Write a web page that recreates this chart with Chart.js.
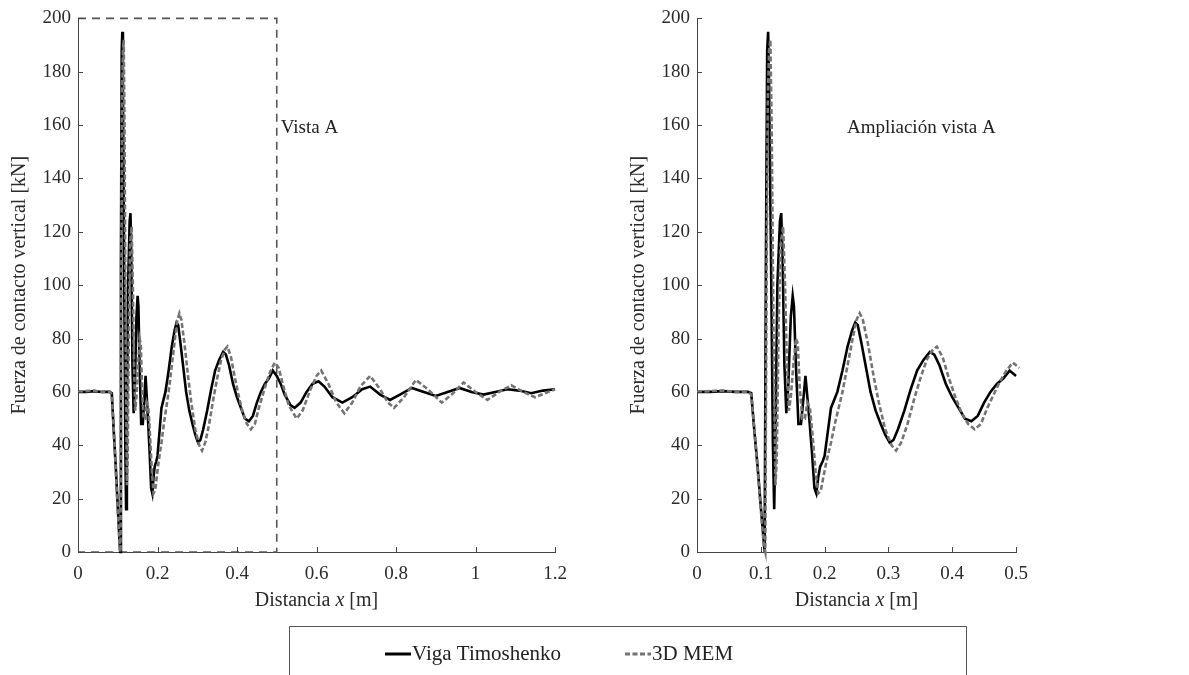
<!DOCTYPE html>
<html>
<head>
<meta charset="utf-8">
<script src="https://cdn.jsdelivr.net/npm/chart.js@4.4.1/dist/chart.umd.min.js"></script>
<style>
  html, body { margin: 0; padding: 0; background: #fff; }
  body { width: 1189px; height: 675px; position: relative; overflow: hidden; }
  canvas { position: absolute; top: 0; }
</style>
</head>
<body>
<canvas id="left" width="610" height="625" style="left:0px"></canvas>
<canvas id="right" width="579" height="625" style="left:610px"></canvas>
<canvas id="legend" width="679" height="49" style="left:289px; top:626px"></canvas>
<script>
// ---- data ----
const xTimo = [0, 0.02, 0.04, 0.06, 0.08, 0.085, 0.09, 0.095, 0.1, 0.106, 0.108, 0.110, 0.1115, 0.113, 0.116, 0.119, 0.121, 0.123, 0.126, 0.130, 0.132, 0.134, 0.137, 0.140, 0.143, 0.147, 0.150, 0.152, 0.155, 0.159, 0.163, 0.167, 0.170, 0.173, 0.176, 0.180, 0.184, 0.187, 0.190, 0.193, 0.197, 0.200, 0.205, 0.210, 0.215, 0.220, 0.228, 0.236, 0.243, 0.248, 0.252, 0.258, 0.265, 0.272, 0.280, 0.288, 0.295, 0.302, 0.308, 0.315, 0.325, 0.335, 0.345, 0.355, 0.365, 0.372, 0.380, 0.390, 0.400, 0.410, 0.420, 0.430, 0.440, 0.450, 0.460, 0.470, 0.480, 0.490, 0.500, 0.510, 0.520, 0.535, 0.545, 0.560, 0.575, 0.590, 0.605, 0.620, 0.640, 0.665, 0.690, 0.715, 0.735, 0.760, 0.785, 0.810, 0.840, 0.870, 0.900, 0.930, 0.960, 0.990, 1.020, 1.050, 1.080, 1.110, 1.140, 1.170, 1.200];
const fTimo = [60, 60, 60.3, 60, 60, 59.5, 45, 32, 17, 0, 108, 188, 195, 175, 110, 40, 16, 45, 100, 124, 127, 112, 70, 52, 62, 88, 96, 92, 70, 48, 48, 58, 66, 58, 50, 38, 24, 22, 28, 32, 34, 36, 45, 54, 57, 60, 68, 77, 83, 86, 85, 78, 69, 60, 53, 48, 44, 41, 42, 46, 53, 61, 68, 72, 75, 74, 70, 63, 58, 54, 50, 49, 51, 56, 60, 63, 65, 68, 66, 63, 59, 55, 54, 56, 60, 63, 64, 62, 58, 56, 58, 61, 62, 59, 57, 59, 61.5, 60, 58.5, 60, 61.5, 60, 59, 60, 61, 60.5, 59.5, 60.5, 61];
const xMem = [0, 0.02, 0.04, 0.06, 0.08, 0.085, 0.09, 0.095, 0.1, 0.105, 0.107, 0.109, 0.111, 0.113, 0.115, 0.117, 0.120, 0.123, 0.125, 0.128, 0.131, 0.135, 0.138, 0.141, 0.144, 0.147, 0.151, 0.155, 0.158, 0.161, 0.165, 0.169, 0.173, 0.177, 0.181, 0.186, 0.190, 0.194, 0.198, 0.203, 0.210, 0.216, 0.222, 0.228, 0.236, 0.244, 0.250, 0.255, 0.260, 0.268, 0.276, 0.285, 0.295, 0.305, 0.312, 0.320, 0.330, 0.340, 0.350, 0.360, 0.370, 0.376, 0.385, 0.395, 0.405, 0.415, 0.425, 0.435, 0.445, 0.455, 0.465, 0.475, 0.485, 0.495, 0.505, 0.515, 0.530, 0.550, 0.565, 0.585, 0.600, 0.612, 0.630, 0.650, 0.670, 0.690, 0.710, 0.735, 0.760, 0.780, 0.795, 0.820, 0.850, 0.880, 0.915, 0.940, 0.970, 1.000, 1.030, 1.060, 1.090, 1.120, 1.150, 1.175, 1.200];
const fMem = [60, 60.3, 60.5, 60, 60, 59, 46, 31, 16, 2, 0, 100, 170, 188, 192, 160, 80, 25, 35, 85, 115, 122, 100, 70, 53, 58, 70, 80, 78, 62, 50, 50, 56, 54, 44, 30, 22, 23, 28, 34, 41, 48, 54, 60, 70, 80, 87, 89.5, 87, 78, 67, 56, 46, 40, 38, 41, 48, 57, 65, 72, 76, 77, 73, 65, 58, 52, 48, 46, 48, 54, 59, 64, 68, 71, 69, 63, 55, 50, 53, 61, 66, 68, 63, 56, 52, 56, 62, 66, 61, 56, 54, 58, 64.5, 61, 56, 59, 63.5, 60, 57, 60, 62.5, 60, 58, 59.5, 61];
const seriesNames = ['Viga Timoshenko', '3D MEM'];
const yTickValues = [0, 20, 40, 60, 80, 100, 120, 140, 160, 180, 200];
const xTicksFull = [0, 0.2, 0.4, 0.6, 0.8, 1, 1.2];
const xTicksZoom = [0, 0.1, 0.2, 0.3, 0.4, 0.5];
const fullRange = [0, 1.2];
const viewA = [0, 0.5];      // zoom window in x
const forceRange = [0, 200]; // y limits

// ---- drawing ----
const FONT = '"Liberation Serif", "Times New Roman", serif';
const AXIS = '#444';
const TXT = '#2b2b2b';
const STYLES = [
  { color: '#000', width: 2.6, dash: [] },
  { color: '#747474', width: 2.6, dash: [5, 2.5] }
];
const pairs = (xs, ys) => xs.map((x, i) => ({ x, y: ys[i] }));

function fmt(v) { return String(parseFloat(Number(v).toFixed(3))); }

const decorPlugin = {
  id: 'decor',
  afterDraw(chart) {
    const o = chart.options.plugins.decor;
    const ctx = chart.ctx, xs = chart.scales.x, ys = chart.scales.y, a = chart.chartArea;
    ctx.save();
    // inward ticks
    ctx.strokeStyle = AXIS; ctx.lineWidth = 1;
    xs.ticks.forEach(t => { const p = Math.round(xs.getPixelForValue(t.value)) + 0.5; ctx.beginPath(); ctx.moveTo(p, a.bottom); ctx.lineTo(p, a.bottom - 5); ctx.stroke(); });
    ys.ticks.forEach(t => { const p = Math.round(ys.getPixelForValue(t.value)) + 0.5; ctx.beginPath(); ctx.moveTo(a.left, p); ctx.lineTo(a.left + 5, p); ctx.stroke(); });
    // x title with italic x
    ctx.fillStyle = TXT; ctx.textBaseline = 'middle';
    const parts = [['Distancia ', 'normal'], ['x', 'italic'], [' [m]', 'normal']];
    let total = 0;
    parts.forEach(p => { ctx.font = p[1] + ' 20px ' + FONT; total += ctx.measureText(p[0]).width; });
    let cx = (a.left + a.right) / 2 - total / 2;
    parts.forEach(p => { ctx.font = p[1] + ' 20px ' + FONT; ctx.textAlign = 'left'; ctx.fillText(p[0], cx, 601); cx += ctx.measureText(p[0]).width; });
    // y title
    ctx.save();
    ctx.translate(o.yTitleX, (a.top + a.bottom) / 2);
    ctx.rotate(-Math.PI / 2);
    ctx.font = '20px ' + FONT; ctx.textAlign = 'center'; ctx.textBaseline = 'middle';
    ctx.fillText('Fuerza de contacto vertical [kN]', 0, 0);
    ctx.restore();
    // note
    ctx.font = '19px ' + FONT; ctx.textAlign = 'left'; ctx.textBaseline = 'middle'; ctx.fillStyle = '#222';
    ctx.fillText(o.note.text, xs.getPixelForValue(o.note.x), ys.getPixelForValue(o.note.y));
    ctx.restore();
  }
};

function makeChart(id, xRange, xTicks, withBox, note, pad, yTitleX) {
  const datasets = [
    { label: seriesNames[0], data: pairs(xTimo, fTimo), borderColor: STYLES[0].color, borderWidth: STYLES[0].width, pointRadius: 0, tension: 0, order: 2 },
    { label: seriesNames[1], data: pairs(xMem, fMem), borderColor: STYLES[1].color, borderWidth: STYLES[1].width, borderDash: STYLES[1].dash, pointRadius: 0, tension: 0, order: 1 }
  ];
  if (withBox) {
    const boxX = [viewA[0], viewA[1], viewA[1], viewA[0]];
    const boxY = [forceRange[1], forceRange[1], forceRange[0], forceRange[0]];
    datasets.push({ label: 'Vista A', data: pairs(boxX, boxY), borderColor: '#555', borderWidth: 1.6, borderDash: [8, 6], pointRadius: 0, tension: 0, order: 3 });
  }
  return new Chart(document.getElementById(id), {
    type: 'line',
    data: { datasets },
    plugins: [decorPlugin],
    options: {
      responsive: false, animation: false, devicePixelRatio: 1,
      layout: { padding: pad },
      elements: { line: { borderCapStyle: 'butt', borderJoinStyle: 'miter' } },
      datasets: { line: { clip: false } },
      plugins: { legend: { display: false }, tooltip: { enabled: false }, decor: { note, yTitleX } },
      scales: {
        x: {
          type: 'linear', min: xRange[0], max: xRange[1],
          afterBuildTicks: s => { s.ticks = xTicks.map(v => ({ value: v })); },
          afterFit: s => { s.height = 73; },
          grid: { display: true, drawOnChartArea: false, drawTicks: false },
          border: { display: true, color: AXIS, width: 1 },
          ticks: { callback: v => fmt(v), padding: 11, color: TXT, font: { family: FONT, size: 19 }, maxRotation: 0, autoSkip: false }
        },
        y: {
          type: 'linear', min: forceRange[0], max: forceRange[1],
          afterBuildTicks: s => { s.ticks = yTickValues.map(v => ({ value: v })); },
          afterFit: s => { s.width = 78; },
          grid: { display: true, drawOnChartArea: false, drawTicks: false },
          border: { display: true, color: AXIS, width: 1 },
          ticks: { callback: v => fmt(v), padding: 7, color: TXT, font: { family: FONT, size: 19 }, autoSkip: false }
        }
      }
    }
  });
}

makeChart('left', fullRange, xTicksFull, true, { text: 'Vista A', x: 0.51, y: 159 }, { left: 0, right: 55, top: 18, bottom: 0 }, 20);
makeChart('right', viewA, xTicksZoom, false, { text: 'Ampliación vista A', x: 0.235, y: 159 }, { left: 9, right: 173, top: 18, bottom: 0 }, 29);

// shared legend (box open at the bottom edge of the picture)
(function () {
  const c = document.getElementById('legend'), ctx = c.getContext('2d');
  ctx.strokeStyle = '#555'; ctx.lineWidth = 1;
  ctx.beginPath(); ctx.moveTo(0.5, c.height); ctx.lineTo(0.5, 0.5); ctx.lineTo(c.width - 1.5, 0.5); ctx.lineTo(c.width - 1.5, c.height); ctx.stroke();
  const starts = [96, 336];
  ctx.font = '21px ' + FONT; ctx.textBaseline = 'middle'; ctx.textAlign = 'left'; ctx.fillStyle = '#222';
  seriesNames.forEach((name, i) => {
    const s = STYLES[i], x0 = starts[i], y = 28;
    ctx.save();
    ctx.strokeStyle = s.color; ctx.lineWidth = 3; ctx.setLineDash(s.dash);
    ctx.beginPath(); ctx.moveTo(x0, y); ctx.lineTo(x0 + 26, y); ctx.stroke();
    ctx.restore();
    ctx.fillText(name, x0 + 27, y);
  });
})();
</script>
</body>
</html>
